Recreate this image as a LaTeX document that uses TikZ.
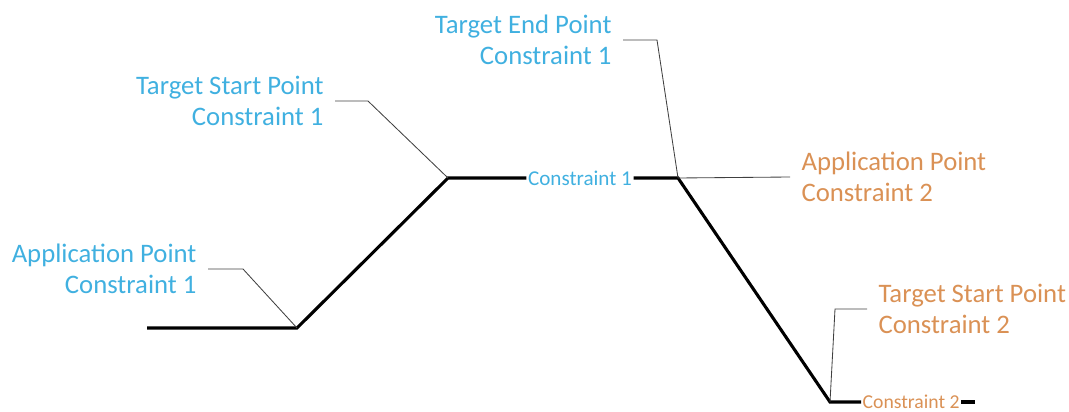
\documentclass[tikz,border=0pt]{standalone}
\usepackage{fontspec}
\setmainfont{Carlito}
\usepackage{xcolor}
\usetikzlibrary{positioning}
\definecolor{conblue}{RGB}{64,176,224}
\definecolor{conorange}{RGB}{218,145,85}
\tikzset{
    beam/.style={
        line width=2.2pt,
        black
    },
    leader/.style={
        line width=0.6pt,
        black!75
    },
    callout/.style={
        font=\fontsize{19}{22}\selectfont,
        inner xsep=8pt
    },
    inline/.style={
        font=\fontsize{15}{18}\selectfont,
        inner sep=1pt
    },
    first/.style={text=conblue},
    second/.style={text=conorange}
}

\begin{document}
\begin{tikzpicture}[x=0.025cm,y=-0.025cm]
            \useasboundingbox (0,0) rectangle (1069,412);
            % joints of the chain
            \coordinate (base) at (147,328);
            \coordinate (ap1) at (297,328);
            \coordinate (ts1) at (448,178);
            \coordinate (te1) at (678,178);
            \coordinate (ts2) at (830,402);
            \coordinate (tip) at (975,402);
            % labels riding on the chain
            \node[inline,first] (c1) at (580,178) {Constraint 1};
            \node[inline,second,anchor=west,font=\fontsize{14}{16}\selectfont] (c2) at (861,402) {Constraint 2};
            \draw[beam] (base) -- (ap1) -- (ts1) -- (c1.west);
            \draw[beam] (c1.east) -- (te1) -- (ts2) -- (c2.west);
            \draw[beam] (c2.east) -- (tip);
            % callouts, constraint 1
            \node[callout,first,align=right,anchor=east] (lap1) at (208,269) {Application Point\\Constraint 1};
            \node[callout,first,align=right,anchor=east] (lts1) at (335,101) {Target Start Point\\Constraint 1};
            \node[callout,first,align=right,anchor=east] (lte1) at (623,40) {Target End Point\\Constraint 1};
            \coordinate (kap1) at (243,269);
            \coordinate (kts1) at (368,101);
            \coordinate (kte1) at (657,40);
            \foreach \l/\k/\p in {lap1/kap1/ap1,lts1/kts1/ts1,lte1/kte1/te1}
              \draw[leader] (\l.east) -- (\k) -- (\p);
            % callouts, constraint 2
            \node[callout,second,align=left,anchor=west] (lap2) at (790,177) {Application Point\\Constraint 2};
            \node[callout,second,align=left,anchor=west] (lts2) at (867,309) {Target Start Point\\Constraint 2};
            \coordinate (kts2) at (835,309);
            \draw[leader] (te1) -- (lap2.west);
            \draw[leader] (lts2.west) -- (kts2) -- (ts2);
\end{tikzpicture}
\end{document}
